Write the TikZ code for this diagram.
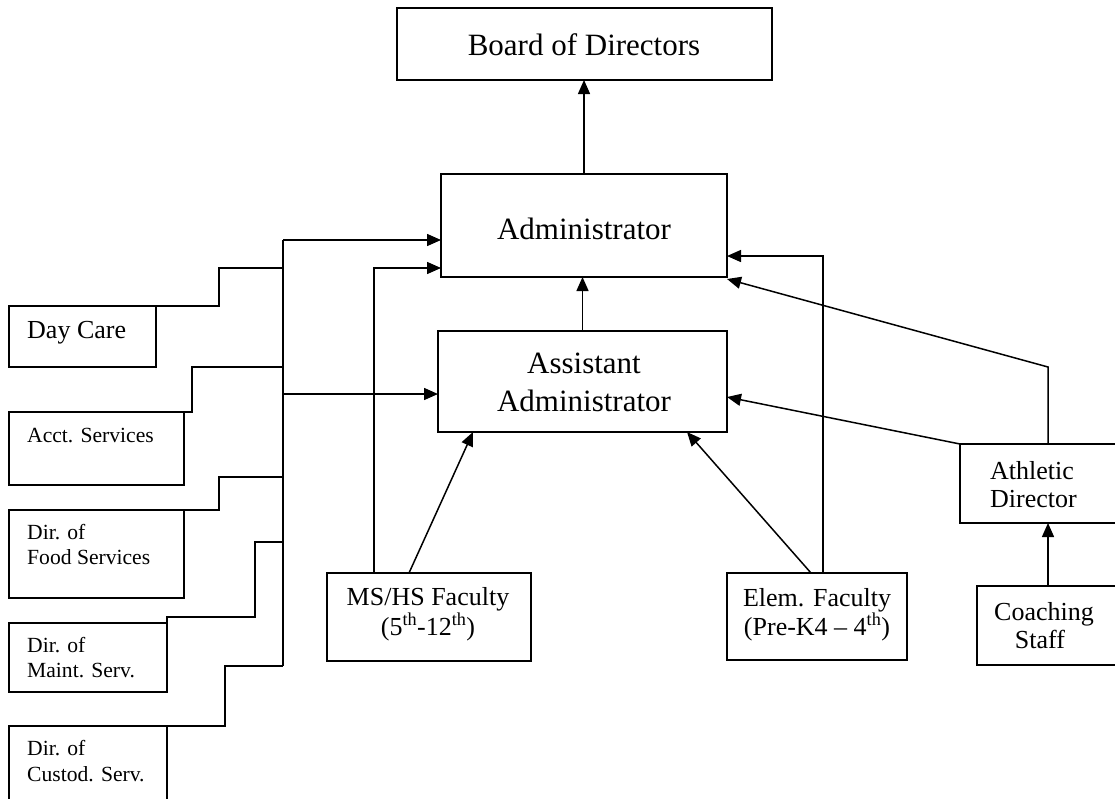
\documentclass[tikz,border=0pt]{standalone}
\usepackage{fontspec}
\setmainfont{Liberation Serif}
\usetikzlibrary{arrows.meta}
\tikzset{
  box/.style={draw, line width=1.5pt, inner sep=0pt, outer sep=0pt},
  conn/.style={line width=1.5pt},
  arr/.style={line width=1.5pt, -{Triangle[length=14pt,width=12pt]}},
  big/.style={font=\fontsize{31}{38}\selectfont, inner sep=0pt},
  mid/.style={font=\fontsize{26}{30}\selectfont, inner sep=0pt},
  sml/.style={font=\fontsize{21.6}{25}\selectfont, inner sep=0pt}
}
\newcommand\mybox[5]{\node[box, minimum width={#4-#2}, minimum height={#5-#3}] (#1) at ({(#2+#4)/2},{(#3+#5)/2}) {};}
\begin{document}
\begin{tikzpicture}[x=1pt,y=-1pt]
\useasboundingbox (0,0) rectangle (1115,798);
% boxes
\mybox{board}{397}{8}{772}{80}
\mybox{admin}{441}{174}{727}{277}
\mybox{asst}{438}{331}{727}{432}
\mybox{daycare}{9}{306}{156}{367}
\mybox{acct}{9}{412}{184}{485}
\mybox{food}{9}{510}{184}{598}
\mybox{maint}{9}{623}{167}{692}
\mybox{custod}{9}{726}{167}{802}
\mybox{mshs}{327}{573}{531}{661}
\mybox{elem}{727}{573}{907}{660}
\mybox{ath}{960}{444}{1122}{523}
\mybox{coach}{977}{586}{1122}{665}
% texts
\node[big, anchor=base] (tboard) at (584,55) {Board of Directors};
\node[big, anchor=base] (tadmin) at (584,239) {Administrator};
\node[big, anchor=base] (tasst1) at (584,373) {Assistant};
\node[big, anchor=base] (tasst2) at (584,411) {Administrator};
\node[mid, anchor=base west] (tday) at (27,338) {Day Care};
\node[sml, anchor=base west] (tacct) at (27,442) {Acct. Services};
\node[sml, anchor=base west] (tfood1) at (27,539) {Dir. of};
\node[sml, anchor=base west] (tfood2) at (27,564) {Food Services};
\node[sml, anchor=base west] (tmaint1) at (27,652) {Dir. of};
\node[sml, anchor=base west] (tmaint2) at (27,677) {Maint. Serv.};
\node[sml, anchor=base west] (tcust1) at (27,755) {Dir. of};
\node[sml, anchor=base west] (tcust2) at (27,781) {Custod. Serv.};
\node[mid, anchor=base] (tms1) at (428,605) {MS/HS Faculty};
\node[mid, anchor=base] (tms2) at (428,635) {(5\textsuperscript{th}-12\textsuperscript{th})};
\node[mid, anchor=base] (tel1) at (817,606) {Elem. Faculty};
\node[mid, anchor=base] (tel2) at (817,635) {(Pre-K4 – 4\textsuperscript{th})};
\node[mid, anchor=base west] (tath1) at (990,479) {Athletic};
\node[mid, anchor=base west] (tath2) at (990,507) {Director};
\node[mid, anchor=base] (tco1) at (1044,620) {Coaching};
\node[mid, anchor=base] (tco2) at (1040,648) {Staff};
% trunk coordinates
\coordinate (ttop) at (283,240);
\coordinate (jday) at (283,268);
\coordinate (jacct) at (283,367);
\coordinate (jasst) at (283,394);
\coordinate (jfood) at (283,477);
\coordinate (jmaint) at (283,542);
\coordinate (tbot) at (283,666);
% main vertical arrows
\draw[arr] (admin.north) -- (admin.north |- board.south);
\draw[arr] (asst.north) -- (asst.north |- admin.south);
% trunk
\draw[conn] (ttop) -- (tbot);
\draw[arr] (ttop) -- (ttop -| admin.west);
\draw[arr] (jasst) -- (jasst -| asst.west);
\draw[conn] (daycare.north east) -- ++(63,0) |- (jday);
\draw[conn] (acct.north east) -- ++(8,0) |- (jacct);
\draw[conn] (food.north east) -- ++(35,0) |- (jfood);
\draw[conn] (maint.north east) -- ++(0,-6) -- ++(88,0) |- (jmaint);
\draw[conn] (custod.north east) -- ++(58,0) |- (tbot);
% faculty
\draw[arr] ([xshift=47pt]mshs.north west) |- ([yshift=9pt]admin.south west);
\draw[arr] ([xshift=82pt]mshs.north west) -- ([xshift=35pt]asst.south west);
\draw[arr] ([xshift=84pt]elem.north west) -- ([xshift=-40pt]asst.south east);
\draw[arr] ([xshift=96pt]elem.north west) |- ([yshift=21pt]admin.south east);
% athletic
\draw[arr] (ath.north west) -- ([yshift=35pt]asst.south east);
\draw[arr] ([xshift=88pt]ath.north west) -- ++(0,-77) -- ([yshift=-2pt]admin.south east);
\draw[arr] ([xshift=71pt]coach.north west) -- ([xshift=71pt]coach.north west |- ath.south);
\end{tikzpicture}
\end{document}
